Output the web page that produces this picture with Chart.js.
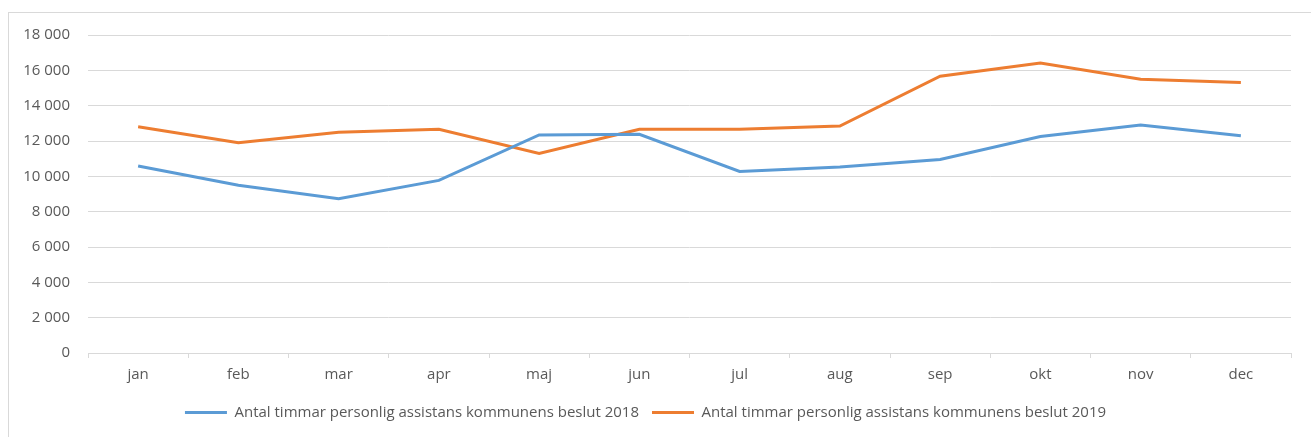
<!DOCTYPE html>
<html>
<head>
<meta charset="utf-8">
<script src="https://cdn.jsdelivr.net/npm/chart.js@4.4.1/dist/chart.umd.min.js"></script>
<style>
  body { margin: 0; background: #fff; overflow: hidden; }
  #frame { position: absolute; left: 8px; top: 12px; width: 1320px; height: 440px; border: 1px solid #d9d9d9; }
  #wrap { position: absolute; left: 0; top: 0; width: 1311px; height: 437px; }
</style>
</head>
<body>
<div id="frame"></div>
<div id="wrap"><canvas id="lineChart"></canvas></div>
<script>
// data
const months = ['jan', 'feb', 'mar', 'apr', 'maj', 'jun', 'jul', 'aug', 'sep', 'okt', 'nov', 'dec'];
const hours_2018 = [10590, 9490, 8730, 9770, 12340, 12380, 10280, 10530, 10950, 12250, 12910, 12300];
const hours_2019 = [12810, 11900, 12490, 12660, 11300, 12660, 12660, 12850, 15670, 16420, 15490, 15310];
const label_2018 = 'Antal timmar personlig assistans kommunens beslut 2018';
const label_2019 = 'Antal timmar personlig assistans kommunens beslut 2019';

const textColor = '#595959';
const gridColor = '#d9d9d9';
const font = { family: 'Open Sans', size: 15 };

// "18 000" style numbers
function spaced(v) {
    return String(v).replace(/\B(?=(\d{3})+(?!\d))/g, ' ');
}

var ctx = document.getElementById('lineChart').getContext('2d');
var lineChart = new Chart(ctx, {
    type: 'line',
    data: {
        labels: months,
        datasets: [
            {
                label: label_2018,
                data: hours_2018,
                borderColor: '#5b9bd5',
                backgroundColor: '#5b9bd5',
                borderWidth: 3,
                pointRadius: 0,
                tension: 0
            },
            {
                label: label_2019,
                data: hours_2019,
                borderColor: '#ed7d31',
                backgroundColor: '#ed7d31',
                borderWidth: 3,
                pointRadius: 0,
                tension: 0
            }
        ]
    },
    options: {
        responsive: true,
        maintainAspectRatio: false,
        animation: false,
        layout: {
            padding: { top: 35, right: 20, bottom: 7, left: 0 }
        },
        plugins: {
            legend: {
                display: true,
                position: 'bottom',
                labels: {
                    color: textColor,
                    font: { family: 'Open Sans', size: 15 },
                    usePointStyle: true,
                    pointStyle: 'line',
                    pointStyleWidth: 42,
                    padding: 13
                }
            },
            tooltip: { enabled: false }
        },
        scales: {
            x: {
                offset: true,
                grid: {
                    display: true,
                    offset: true,
                    drawOnChartArea: false,
                    drawTicks: true,
                    tickLength: 5,
                    color: gridColor
                },
                border: { display: true, color: gridColor, width: 1 },
                ticks: { color: textColor, font: font, padding: 8 }
            },
            y: {
                min: 0,
                max: 18000,
                afterFit: function(scale) { scale.width = 88; },
                grid: { color: gridColor, drawTicks: false },
                border: { display: false },
                ticks: {
                    stepSize: 2000,
                    color: textColor,
                    font: font,
                    padding: 18,
                    callback: function(v) { return spaced(v); }
                }
            }
        }
    }
});
</script>
</body>
</html>
